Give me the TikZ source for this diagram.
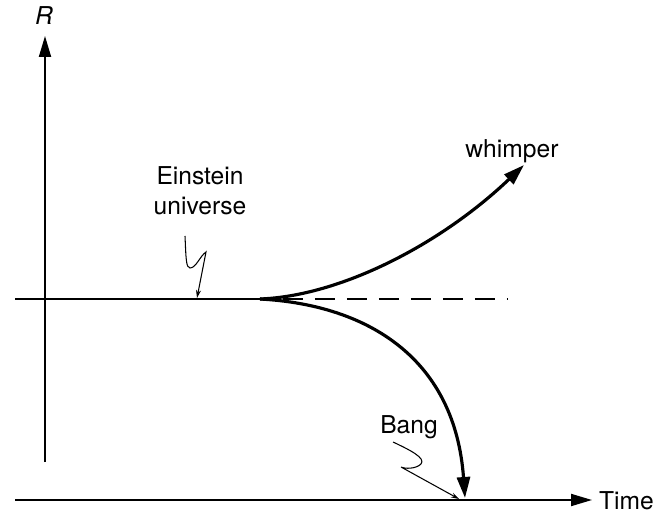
\documentclass[tikz,border=0pt]{standalone}
\usepackage{fontspec}
\setmainfont{TeX Gyre Heros}
\usetikzlibrary{arrows.meta, positioning}

\begin{document}
\begin{tikzpicture}[
    x=0.02cm, y=-0.02cm,
    every node/.style={font=\fontsize{14}{17}\selectfont, inner sep=1pt},
    axis/.style={line width=1.1pt, -{Triangle[length=0.42cm, width=0.24cm]}},
    branch/.style={line width=1.8pt, -{Triangle[length=0.42cm, width=0.26cm]}},
    pointer/.style={line width=0.6pt, -{Stealth[length=0.16cm, width=0.1cm]}}
]
\useasboundingbox (0,0) rectangle (666,513);

% Achsen
\coordinate (rbot) at (45,462);
\coordinate (rtop) at (45,36);
\coordinate (tleft) at (15,500);
\coordinate (tright) at (592,500);
\draw[axis] (rbot) -- (rtop);
\draw[axis] (tleft) -- (tright);
\node (rlab) at (44,16) {\textit{R}};
\node[anchor=west] (tlab) at (597,501) {Time};

% statisches Universum und Abzweigung
\coordinate (eleft) at (15,299);
\coordinate (cusp) at (260,299);
\coordinate (dashend) at (507,299);
\draw[line width=1.5pt] (eleft) -- (cusp);
\draw[line width=1.1pt, dash pattern=on 0.4cm off 0.24cm] (cusp) ++(23,0) -- (dashend);

\coordinate (wtip) at (524,165);
\coordinate (btip) at (465,498);
\draw[branch] (cusp) .. controls (340,296) and (440,245) .. (wtip);
\draw[branch] (cusp) .. controls (370,305) and (455,360) .. (btip);

% Beschriftungen
\node (whimper) at (512,151) {whimper};
\node[align=center] (einstein) at (200,191) {Einstein\\universe};
\node (bang) at (409,427) {Bang};

% Zeiger
\draw[pointer] (185,236) .. controls (186,258) and (186,268) .. (190,268)
    .. controls (196,268) and (200,256) .. (206,252) -- (197,298);
\draw[pointer] (393,442) .. controls (410,450) and (426,458) .. (421,464)
    .. controls (416,469) and (405,469) .. (401,467) -- (459,499);

\end{tikzpicture}
\end{document}
